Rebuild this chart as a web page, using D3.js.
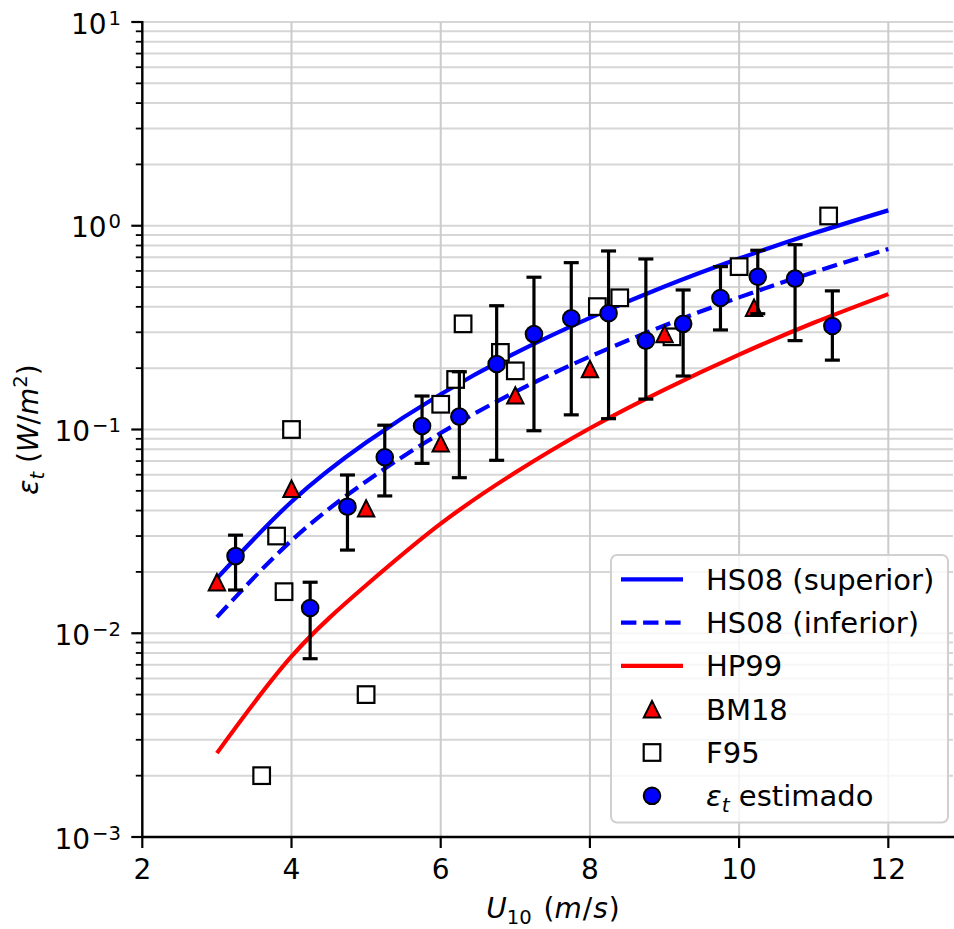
<!DOCTYPE html>
<html>
<head>
<meta charset="utf-8">
<script src="https://cdn.jsdelivr.net/npm/d3@7"></script>
<style>
  html, body { margin: 0; padding: 0; background: #ffffff; }
  svg { display: block; font-family: "DejaVu Sans", sans-serif; }
</style>
</head>
<body>
<svg id="chart" width="954" height="929"></svg>
<script>
// ---------------- data ----------------
const curveU   = [3, 4, 5, 6, 7, 8, 9, 10, 11, 12];
const hs08Sup  = [0.0186, 0.0442, 0.0863, 0.149, 0.237, 0.353, 0.503, 0.690, 0.918, 1.19];
const hs08Inf  = [0.0120, 0.0285, 0.0556, 0.0961, 0.153, 0.228, 0.324, 0.445, 0.592, 0.769];
const hp99     = [0.00258, 0.0077, 0.0172, 0.0345, 0.0615, 0.1014, 0.157, 0.233, 0.334, 0.462];

const bm18U    = [3, 4, 5, 6, 7, 8, 9, 10.2];
const bm18Eps  = [0.0178, 0.0512, 0.041, 0.0855, 0.147, 0.198, 0.294, 0.396];

const f95U     = [3.6, 3.8, 3.9, 4.0, 5.0, 6.0, 6.2, 6.3, 6.8, 7.0, 8.1, 8.4, 9.1, 10.0, 11.2];
const f95Eps   = [0.002, 0.030, 0.016, 0.100, 0.005, 0.133, 0.176, 0.330, 0.239, 0.194, 0.401, 0.443, 0.285, 0.630, 1.117];

const estU     = [3.25, 4.25, 4.75, 5.25, 5.75, 6.25, 6.75, 7.25, 7.75, 8.25, 8.75, 9.25, 9.75, 10.25, 10.75, 11.25];
const estEps   = [0.0239, 0.0133, 0.0418, 0.0731, 0.104, 0.1156, 0.2097, 0.294, 0.351, 0.372, 0.273, 0.330, 0.442, 0.562, 0.550, 0.322];
const estHigh  = [0.0303, 0.0178, 0.0598, 0.105, 0.146, 0.192, 0.405, 0.559, 0.659, 0.752, 0.687, 0.484, 0.630, 0.758, 0.807, 0.479];
const estLow   = [0.0163, 0.0075, 0.0256, 0.0472, 0.0682, 0.058, 0.0706, 0.0986, 0.118, 0.113, 0.141, 0.183, 0.308, 0.370, 0.273, 0.219];

const xTicks    = [2, 4, 6, 8, 10, 12];
const xTickText = ["2", "4", "6", "8", "10", "12"];
const yMajorExp = [-3, -2, -1, 0, 1];
const yMajorText = ["\u22123", "\u22122", "\u22121", "0", "1"];
const legendLabels = ["HS08 (superior)", "HS08 (inferior)", "HP99", "BM18", "F95", "estimado"];

// ---------------- layout ----------------
const FONT = 28, LFONT = 29;
const pL = 142.3, pR = 953, pT = 22, pB = 837;
const x = d3.scaleLinear().domain([2, 12.867]).range([pL, pR]);
const y = d3.scaleLog().domain([1e-3, 1e1]).range([pB, pT]);

const svg = d3.select("#chart");

// minor y ticks
const yMinor = [];
for (let e = -3; e < 1; e++) for (let k = 2; k <= 9; k++) yMinor.push(k * Math.pow(10, e));
const yMajor = yMajorExp.map(e => Math.pow(10, e));

// ---------------- grid ----------------
const grid = svg.append("g");
grid.selectAll(".hg").data(yMinor.concat(yMajor)).enter().append("line")
  .attr("x1", pL).attr("x2", pR)
  .attr("y1", d => y(d)).attr("y2", d => y(d))
  .attr("stroke", "#d6d6d6").attr("stroke-width", 2);
grid.selectAll(".vg").data(xTicks).enter().append("line")
  .attr("x1", d => x(d)).attr("x2", d => x(d))
  .attr("y1", pT).attr("y2", pB)
  .attr("stroke", "#cbcbcb").attr("stroke-width", 2);

// ---------------- curves ----------------
const line = d3.line().x(d => x(d[0])).y(d => y(d[1])).curve(d3.curveNatural);
const plot = svg.append("g");
plot.append("path").datum(curveU.map((u, i) => [u, hs08Sup[i]]))
  .attr("d", line).attr("fill", "none").attr("stroke", "#0000ff").attr("stroke-width", 4.2);
plot.append("path").datum(curveU.map((u, i) => [u, hs08Inf[i]]))
  .attr("d", line).attr("fill", "none").attr("stroke", "#0000ff").attr("stroke-width", 4.2)
  .attr("stroke-dasharray", "15.4,6.7");
plot.append("path").datum(curveU.map((u, i) => [u, hp99[i]]))
  .attr("d", line).attr("fill", "none").attr("stroke", "#ff0000").attr("stroke-width", 4.2);

// marker helpers
const TRI = 8.2, SQ = 8.3, CR = 8.3;
function triPath(cx, cy) {
  return `M${cx},${cy - TRI}L${cx - TRI},${cy + TRI}L${cx + TRI},${cy + TRI}Z`;
}

// F95 squares
plot.selectAll(".sq").data(f95U.map((u, i) => [u, f95Eps[i]])).enter().append("rect")
  .attr("x", d => x(d[0]) - SQ).attr("y", d => y(d[1]) - SQ)
  .attr("width", 2 * SQ).attr("height", 2 * SQ)
  .attr("fill", "#ffffff").attr("stroke", "#000").attr("stroke-width", 2.2);

// BM18 triangles
plot.selectAll(".tri").data(bm18U.map((u, i) => [u, bm18Eps[i]])).enter().append("path")
  .attr("d", d => triPath(x(d[0]), y(d[1])))
  .attr("fill", "#ff0000").attr("stroke", "#000").attr("stroke-width", 2).attr("stroke-linejoin", "miter");

// error bars
const est = estU.map((u, i) => ({u, v: estEps[i], lo: estLow[i], hi: estHigh[i]}));
const eb = plot.append("g").attr("stroke", "#000").attr("stroke-width", 3.2);
eb.selectAll(".ebv").data(est).enter().append("line")
  .attr("x1", d => x(d.u)).attr("x2", d => x(d.u))
  .attr("y1", d => y(d.lo)).attr("y2", d => y(d.hi));
eb.selectAll(".ebt").data(est).enter().append("line")
  .attr("x1", d => x(d.u) - 7.5).attr("x2", d => x(d.u) + 7.5)
  .attr("y1", d => y(d.hi)).attr("y2", d => y(d.hi));
eb.selectAll(".ebb").data(est).enter().append("line")
  .attr("x1", d => x(d.u) - 7.5).attr("x2", d => x(d.u) + 7.5)
  .attr("y1", d => y(d.lo)).attr("y2", d => y(d.lo));

// circles
plot.selectAll(".circ").data(est).enter().append("circle")
  .attr("cx", d => x(d.u)).attr("cy", d => y(d.v)).attr("r", CR)
  .attr("fill", "#0000ff").attr("stroke", "#000").attr("stroke-width", 2);

// ---------------- axes ----------------
const ax = svg.append("g");
// spines
ax.append("line").attr("x1", pL).attr("x2", pL).attr("y1", pT - 1).attr("y2", pB + 1)
  .attr("stroke", "#000").attr("stroke-width", 2.4);
ax.append("line").attr("x1", pL - 1).attr("x2", pR + 2).attr("y1", pB).attr("y2", pB)
  .attr("stroke", "#000").attr("stroke-width", 2.4);
// x ticks
ax.selectAll(".xt").data(xTicks).enter().append("line")
  .attr("x1", d => x(d)).attr("x2", d => x(d)).attr("y1", pB).attr("y2", pB + 11)
  .attr("stroke", "#000").attr("stroke-width", 2.2);
ax.selectAll(".xl").data(xTicks).enter().append("text")
  .attr("x", d => x(d)).attr("y", pB + 42).attr("text-anchor", "middle")
  .attr("font-size", FONT).attr("fill", "#000")
  .text((d, i) => xTickText[i]);
// y ticks
ax.selectAll(".ymt").data(yMajor).enter().append("line")
  .attr("x1", pL - 11).attr("x2", pL).attr("y1", d => y(d)).attr("y2", d => y(d))
  .attr("stroke", "#000").attr("stroke-width", 2.2);
ax.selectAll(".ynt").data(yMinor).enter().append("line")
  .attr("x1", pL - 6.5).attr("x2", pL).attr("y1", d => y(d)).attr("y2", d => y(d))
  .attr("stroke", "#000").attr("stroke-width", 1.8);
const yl = ax.selectAll(".yl").data(yMajor).enter().append("text")
  .attr("x", 121).attr("y", d => y(d) + 11.5).attr("text-anchor", "end")
  .attr("font-size", FONT).attr("fill", "#000");
yl.append("tspan").text("10");
yl.append("tspan").attr("font-size", FONT * 0.7).attr("dx", 2).attr("dy", -9)
  .text((d, i) => yMajorText[i]);

// axis labels
const xlab = svg.append("text").attr("x", 553).attr("y", 918).attr("text-anchor", "middle")
  .attr("font-size", FONT).attr("fill", "#000");
xlab.append("tspan").attr("font-style", "italic").text("U");
xlab.append("tspan").attr("font-size", FONT * 0.7).attr("dy", 6).text("10");
xlab.append("tspan").attr("dy", -6).attr("dx", 3).text("\u00a0(");
xlab.append("tspan").attr("font-style", "italic").text("m");
xlab.append("tspan").attr("dx", 1).text("/");
xlab.append("tspan").attr("font-style", "italic").attr("dx", 1).text("s");
xlab.append("tspan").attr("dx", 1).text(")");

const ylab = svg.append("text").attr("transform", "translate(38,429.5) rotate(-90)")
  .attr("text-anchor", "middle").attr("font-size", FONT).attr("fill", "#000");
ylab.append("tspan").attr("font-style", "italic").text("\u03b5");
ylab.append("tspan").attr("font-style", "italic").attr("font-size", FONT * 0.7).attr("dy", 6).text("t");
ylab.append("tspan").attr("dy", -6).text("\u00a0(");
ylab.append("tspan").attr("font-style", "italic").text("W");
ylab.append("tspan").text("/");
ylab.append("tspan").attr("font-style", "italic").text("m");
ylab.append("tspan").attr("font-size", FONT * 0.7).attr("dy", -11).text("2");
ylab.append("tspan").attr("dy", 11).text(")");

// ---------------- legend ----------------
const lg = svg.append("g");
lg.append("rect").attr("x", 611).attr("y", 555).attr("width", 337).attr("height", 267.5)
  .attr("rx", 6).attr("ry", 6)
  .attr("fill", "#ffffff").attr("fill-opacity", 0.8)
  .attr("stroke", "#d0d0d0").attr("stroke-width", 2);
const rowY = i => 579.3 + i * 43.3;
const hx1 = 621, hx2 = 683, hmx = 652, tx = 706;
lg.append("line").attr("x1", hx1).attr("x2", hx2).attr("y1", rowY(0)).attr("y2", rowY(0))
  .attr("stroke", "#0000ff").attr("stroke-width", 4.2);
lg.append("line").attr("x1", hx1).attr("x2", hx2).attr("y1", rowY(1)).attr("y2", rowY(1))
  .attr("stroke", "#0000ff").attr("stroke-width", 4.2).attr("stroke-dasharray", "15.4,6.7");
lg.append("line").attr("x1", hx1).attr("x2", hx2).attr("y1", rowY(2)).attr("y2", rowY(2))
  .attr("stroke", "#ff0000").attr("stroke-width", 4.2);
lg.append("path").attr("d", triPath(hmx, rowY(3)))
  .attr("fill", "#ff0000").attr("stroke", "#000").attr("stroke-width", 2);
lg.append("rect").attr("x", hmx - SQ).attr("y", rowY(4) - SQ).attr("width", 2 * SQ).attr("height", 2 * SQ)
  .attr("fill", "#ffffff").attr("stroke", "#000").attr("stroke-width", 2.2);
lg.append("circle").attr("cx", hmx).attr("cy", rowY(5)).attr("r", CR)
  .attr("fill", "#0000ff").attr("stroke", "#000").attr("stroke-width", 2);
for (let i = 0; i < 5; i++) {
  lg.append("text").attr("x", tx).attr("y", rowY(i) + 10.5).attr("font-size", LFONT)
    .attr("fill", "#000").text(legendLabels[i]);
}
const lt = lg.append("text").attr("x", tx).attr("y", rowY(5) + 10.5).attr("font-size", LFONT).attr("fill", "#000");
lt.append("tspan").attr("font-style", "italic").text("\u03b5");
lt.append("tspan").attr("font-style", "italic").attr("font-size", LFONT * 0.7).attr("dy", 6).text("t");
lt.append("tspan").attr("dy", -6).text("\u00a0" + legendLabels[5]);
</script>
</body>
</html>
